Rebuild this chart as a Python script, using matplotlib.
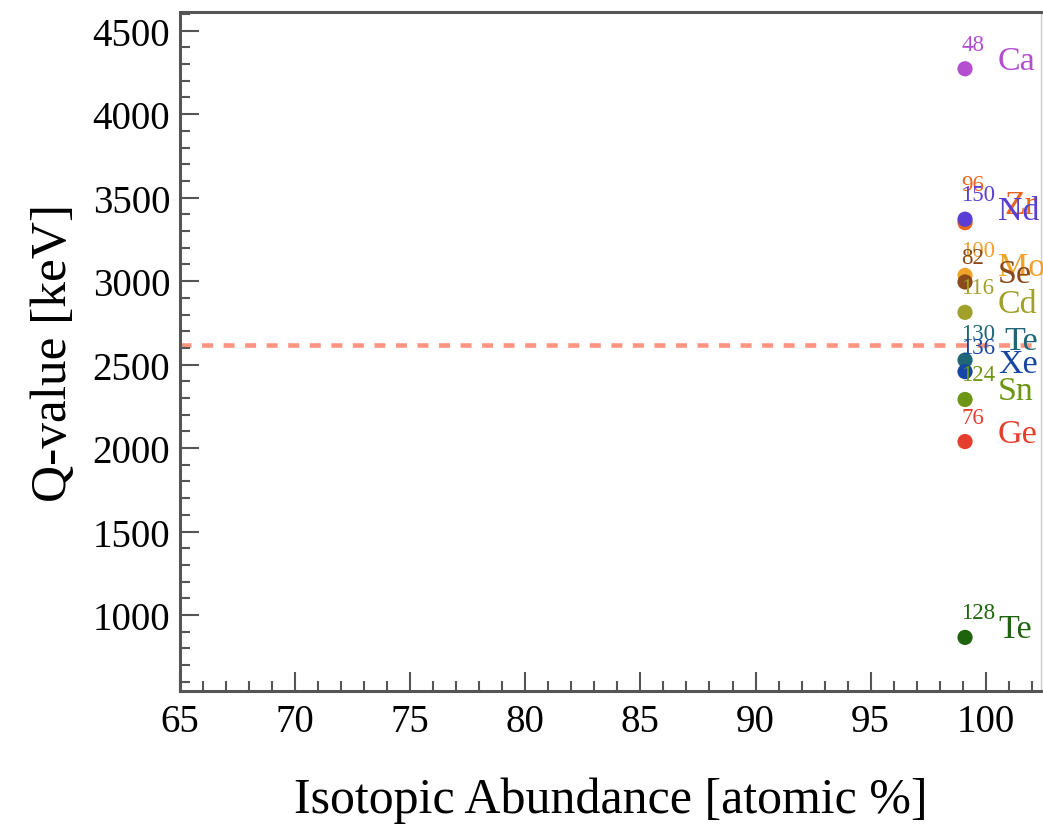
import matplotlib
matplotlib.use("Agg")
import matplotlib.pyplot as plt
from matplotlib.ticker import MultipleLocator

# ---- data ----
mass_numbers = ["48", "96", "150", "100", "82", "116", "130", "136", "124", "76", "128"]
elements = ["Ca", "Zr", "Nd", "Mo", "Se", "Cd", "Te", "Xe", "Sn", "Ge", "Te"]
abundance = [99.1, 99.1, 99.1, 99.1, 99.1, 99.1, 99.1, 99.1, 99.1, 99.1, 99.1]
q_values = [4272, 3350, 3371, 3034, 2995, 2813, 2527, 2458, 2291, 2039, 866]
colors = ["#b44fd0", "#e8661e", "#5a3ed4", "#f0a22a", "#8a4a1c", "#a0a02a",
          "#1f6678", "#1446a2", "#6e9616", "#e63e2c", "#1e640c"]
threshold_q = 2615
xticks = [65, 70, 75, 80, 85, 90, 95, 100]
yticks = [1000, 1500, 2000, 2500, 3000, 3500, 4000, 4500]

plt.rcParams['font.family'] = ['Liberation Serif', 'DejaVu Serif']

fig = plt.figure(figsize=(10.43, 8.29), dpi=100)
ax = fig.add_axes([180 / 1043, 1 - 692 / 829, (1041 - 180) / 1043, (692 - 13) / 829])

ax.set_xlim(65, 102.4)
ax.set_ylim(545, 4612)

# threshold line
ln = ax.axhline(threshold_q, color="#ff9480", lw=3.3, zorder=1)
ln.set_dashes([2.4, 2.3])

# label nudges (pixels) for overlapping labels
sup_dy = {1: 33, 6: 21}
el_dy = {1: 10, 6: 11}
el_dx = {1: 39, 6: 39}

for i in range(len(q_values)):
    ax.scatter(abundance[i], q_values[i], s=120, color=colors[i], zorder=3,
               edgecolors="none", clip_on=False)
for i in range(len(q_values)):
    ax.annotate(mass_numbers[i], (abundance[i], q_values[i]),
                xytext=(-4, sup_dy.get(i, 19)), textcoords="offset pixels",
                ha="left", va="baseline", fontsize=16.5, color=colors[i],
                annotation_clip=False, zorder=4)
    ax.annotate(elements[i], (abundance[i], q_values[i]),
                xytext=(el_dx.get(i, 33), el_dy.get(i, 0)), textcoords="offset pixels",
                ha="left", va="baseline", fontsize=24.5, color=colors[i],
                annotation_clip=False, zorder=4)

ax.set_xticks(xticks)
ax.set_yticks(yticks)
ax.xaxis.set_minor_locator(MultipleLocator(1))
ax.yaxis.set_minor_locator(MultipleLocator(100))
ax.tick_params(axis="both", which="major", direction="in", length=14, width=1.5,
               color="#555555", labelsize=28, top=False, right=False)
ax.tick_params(axis="both", which="minor", direction="in", length=7, width=1.5,
               color="#555555", top=False, right=False)
ax.tick_params(axis="x", which="major", pad=9)
ax.tick_params(axis="y", which="major", pad=7)

for sp in ax.spines.values():
    sp.set_linewidth(2.2)
    sp.set_color("#555555")
ax.spines["right"].set_linewidth(1.0)
ax.spines["right"].set_color("#cccccc")

ax.set_xlabel("Isotopic Abundance [atomic %]", fontsize=36, labelpad=26)
ax.set_ylabel("Q-value [keV]", fontsize=37, labelpad=11)

fig.savefig("out.png", dpi=100)
